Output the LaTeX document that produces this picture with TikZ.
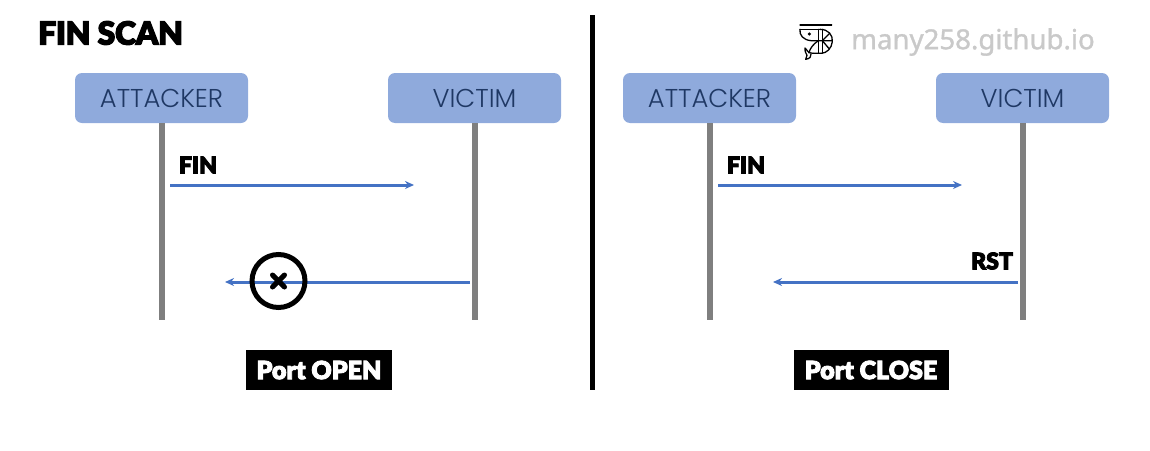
\documentclass[tikz,border=0pt]{standalone}
\usepackage{fontspec}
\setmainfont{Lato}
\newfontfamily\heavy[FakeBold=3.5]{Lato Black}
\newfontfamily\heavyt[FakeBold=3.5,LetterSpace=-1]{Lato Black}
\newfontfamily\thinf{Poppins Light}
\newfontfamily\urlf[FakeBold=1.2]{Noto Sans}
\definecolor{boxblue}{HTML}{8FAADC}
\definecolor{arrowblue}{HTML}{4472C4}
\definecolor{lifegrey}{HTML}{7F7F7F}
\definecolor{inkblue}{HTML}{1F3864}
\definecolor{urlgrey}{HTML}{C9C9C9}
\tikzset{
  actor/.style={fill=boxblue,rounded corners=7pt,minimum width=173pt,minimum height=50pt,inner sep=0pt,
    text=inkblue,font=\thinf\fontsize{25.8}{26}\selectfont},
  lifeline/.style={lifegrey,line width=6pt},
  msg/.style={arrowblue,line width=3pt,-{Stealth[length=9pt,width=8pt]}},
  label/.style={inner sep=0pt,text=black,font=\heavy\fontsize{23}{23}\selectfont},
  verdict/.style={fill=black,text=white,inner sep=0pt,minimum height=40pt,font=\heavy\fontsize{25}{25}\selectfont},
  shr/.style={black,line width=1.3pt,line cap=round,line join=round}
}
\usetikzlibrary{arrows.meta}
\begin{document}
\begin{tikzpicture}[x=1pt,y=-1pt]
\useasboundingbox (0,0) rectangle (1150,450);
\node[inner sep=0pt,anchor=west,font=\heavyt\fontsize{32}{32}\selectfont] (title) at (38,33) {FIN SCAN};
\node[inner sep=0pt,anchor=west,text=urlgrey,font=\urlf\fontsize{27.6}{28}\selectfont] (url) at (851,42) {many258.github.io};
% divider
\coordinate (divtop) at (592,15);
\coordinate (divbot) at (592,390);
\draw[black,line width=5pt] (divtop) -- (divbot);
% left panel
\node[actor] (a1) at (161.5,98) {ATTACKER};
\node[actor] (v1) at (474.5,98) {VICTIM};
\coordinate (a1end) at (161.5,320);
\coordinate (v1end) at (474.5,320);
\draw[lifeline] (a1.south) -- (a1end);
\draw[lifeline] (v1.south) -- (v1end);
\coordinate (f1s) at (170,185);
\coordinate (f1e) at (414,185);
\draw[msg] (f1s) -- (f1e);
\node[label] (f1) at (198,165) {FIN};
\coordinate (r1s) at (470,282);
\coordinate (r1e) at (225,282);
\draw[msg] (r1s) -- (r1e);
\node[circle,draw=black,line width=5pt,minimum size=53pt,inner sep=0pt] (blk) at (278.5,281) {};
\draw[black,line width=5pt,line cap=round] (blk.center) ++(-6,-6) -- ++(12,12);
\draw[black,line width=5pt,line cap=round] (blk.center) ++(6,-6) -- ++(-12,12);
\node[verdict,minimum width=146pt] (p1) at (319,370) {Port OPEN};
% right panel
\node[actor] (a2) at (709.5,98) {ATTACKER};
\node[actor] (v2) at (1022.5,98) {VICTIM};
\coordinate (a2end) at (709.5,320);
\coordinate (v2end) at (1022.5,320);
\draw[lifeline] (a2.south) -- (a2end);
\draw[lifeline] (v2.south) -- (v2end);
\coordinate (f2s) at (718,185);
\coordinate (f2e) at (962,185);
\draw[msg] (f2s) -- (f2e);
\node[label] (f2) at (746,165) {FIN};
\coordinate (r2s) at (1018,282);
\coordinate (r2e) at (773,282);
\draw[msg] (r2s) -- (r2e);
\node[label] (rst) at (992,261) {RST};
\node[verdict,minimum width=155pt] (p2) at (871,370) {Port CLOSE};
% shrimp logo
\begin{scope}[shift={(795,20)},x=0.3333pt,y=-0.3333pt]
\draw[shr] (15,15) -- (110,15);
\draw[shr] (15,28) -- (75,28);
\draw[shr] (15,28) .. controls (12,45) and (25,60) .. (48,62) -- (112,62);
\fill (43,42) circle (5);
\draw[shr] (75,28) .. controls (100,28) and (114,45) .. (112,65) .. controls (110,85) and (95,100) .. (78,100) -- (55,100);
\draw[shr] (70,28) -- (70,100) (82,28) -- (82,100);
\draw[shr] (82,62) -- (104,40) (82,62) -- (103,87);
\draw[shr] (70,62) .. controls (55,72) and (45,85) .. (42,98);
\draw[shr] (42,98) -- (55,100);
\draw[shr] (42,98) .. controls (35,90) and (32,86) .. (30,84) .. controls (30,95) and (32,100) .. (36,106) .. controls (34,110) and (33,114) .. (32,118) .. controls (44,116) and (50,110) .. (48,102);
\end{scope}
\end{tikzpicture}
\end{document}
